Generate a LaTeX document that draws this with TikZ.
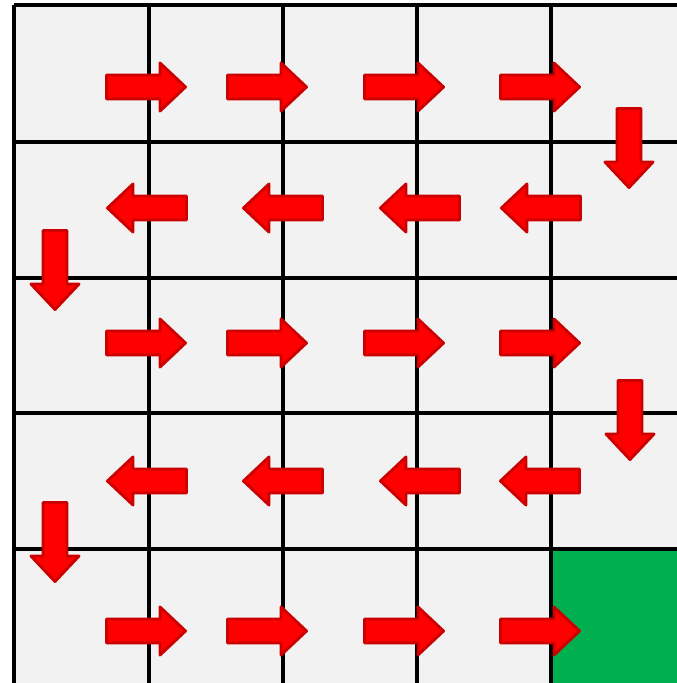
\documentclass[tikz,border=0pt]{standalone}
\definecolor{cellgray}{HTML}{F2F2F2}
\definecolor{goalgreen}{HTML}{00B050}
\definecolor{arrowred}{HTML}{FF0000}
\definecolor{arrowedge}{HTML}{CC0000}
\tikzset{
  gridline/.style={line width=2.4pt, black},
  arrowbody/.style={draw=arrowedge, fill=arrowred, line width=2.2pt, line join=round},
  mvarrow/.pic={
    \path[arrowbody] (-39.5,-12) -- (14,-12) -- (14,-24) -- (39.5,0)
      -- (14,24) -- (14,12) -- (-39.5,12) -- cycle;
  },
  goright/.style={},
  goleft/.style={rotate=180},
  godown/.style={rotate=-90},
}
\begin{document}
\begin{tikzpicture}[x=0.75pt,y=-0.75pt]
\useasboundingbox (0,0) rectangle (677,683);
\fill[cellgray] (14,5) rectangle (677,683);
\fill[goalgreen] (551,549) rectangle (677,683);
\foreach \x in {14,149,283,417,551} \draw[gridline] (\x,5) -- (\x,683);
\foreach \y in {5,142,278,413,549} \draw[gridline] (14,\y) -- (677,\y);
% row 1
\pic[goright] (r1a) at (146,87) {mvarrow};
\pic[goright] (r1b) at (267,87) {mvarrow};
\pic[goright] (r1c) at (404,87) {mvarrow};
\pic[goright] (r1d) at (540,87) {mvarrow};
\pic[godown] (d1) at (629,148) {mvarrow};
% row 2
\pic[goleft] (l2a) at (147,208) {mvarrow};
\pic[goleft] (l2b) at (283,208) {mvarrow};
\pic[goleft] (l2c) at (420,208) {mvarrow};
\pic[goleft] (l2d) at (541,208) {mvarrow};
\pic[godown] (d2) at (55,270) {mvarrow};
% row 3
\pic[goright] (r3a) at (146,343) {mvarrow};
\pic[goright] (r3b) at (267,343) {mvarrow};
\pic[goright] (r3c) at (404,343) {mvarrow};
\pic[goright] (r3d) at (540,343) {mvarrow};
\pic[godown] (d3) at (630,420) {mvarrow};
% row 4
\pic[goleft] (l4a) at (147,481) {mvarrow};
\pic[goleft] (l4b) at (283,481) {mvarrow};
\pic[goleft] (l4c) at (420,481) {mvarrow};
\pic[goleft] (l4d) at (540,481) {mvarrow};
\pic[godown] (d4) at (55,542) {mvarrow};
% row 5
\pic[goright] (r5a) at (146,631) {mvarrow};
\pic[goright] (r5b) at (267,631) {mvarrow};
\pic[goright] (r5c) at (404,631) {mvarrow};
\pic[goright] (r5d) at (540,631) {mvarrow};
\end{tikzpicture}
\end{document}
